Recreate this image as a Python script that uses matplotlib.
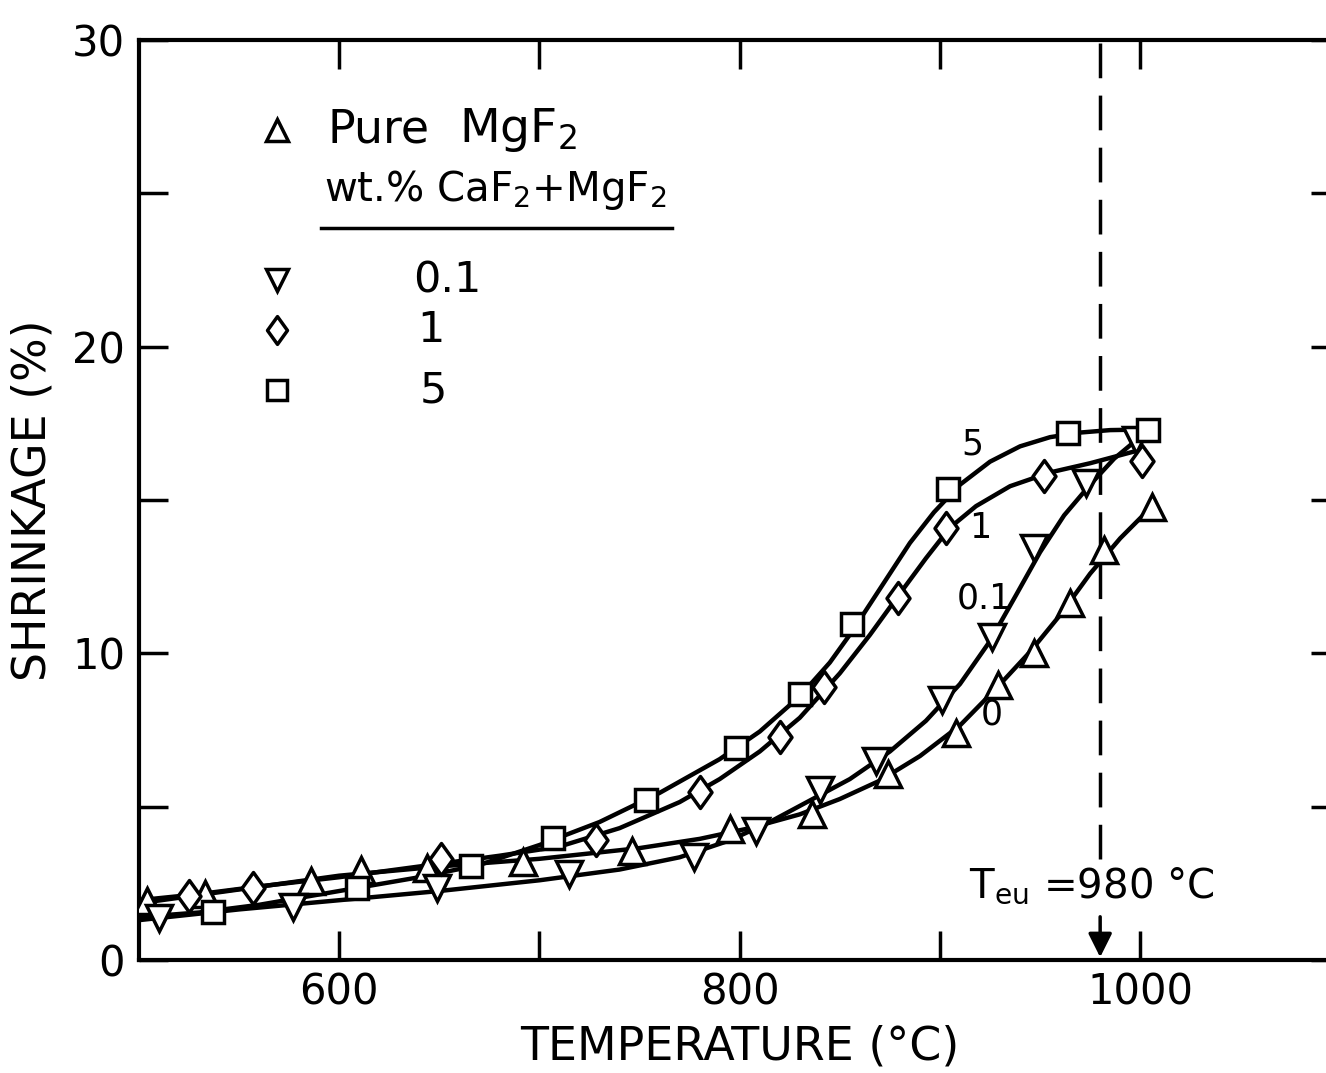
import matplotlib
matplotlib.use("Agg")
import matplotlib.pyplot as plt
from matplotlib.path import Path

# Pure MgF2  (label "0")
t_pure = [504, 533, 586, 611, 644, 692, 746, 795, 836, 874, 908, 929, 947, 965, 982, 1006]
s_pure = [1.92, 2.15, 2.58, 2.93, 3.0, 3.2, 3.55, 4.27, 4.76, 6.06, 7.4, 8.97, 10.0, 11.64, 13.37, 14.77]

# 0.1 wt.% CaF2
t_01 = [510, 577, 649, 715, 777, 808, 840, 868, 901, 926, 947, 973, 998]
s_01 = [1.37, 1.73, 2.35, 2.8, 3.36, 4.2, 5.54, 6.49, 8.48, 10.53, 13.43, 15.55, 16.95]

# 1 wt.% CaF2
t_1 = [525, 557, 651, 728, 780, 820, 842, 879, 903, 952, 1001]
s_1 = [2.09, 2.35, 3.29, 3.91, 5.48, 7.27, 8.9, 11.8, 14.09, 15.78, 16.27]

# 5 wt.% CaF2
t_5 = [537, 609, 666, 707, 753, 798, 830, 856, 904, 964, 1004]
s_5 = [1.57, 2.35, 3.07, 3.98, 5.22, 6.91, 8.67, 10.96, 15.36, 17.18, 17.28]

# hand-drawn smooth curves (traced)
c_pure_t = [500, 550, 600, 650, 700, 750, 780, 805, 830, 850, 870, 890, 910, 928, 945, 960, 975, 990, 1006]
c_pure_s = [1.85, 2.3, 2.75, 3.05, 3.3, 3.65, 3.95, 4.3, 4.75, 5.25, 5.85, 6.65, 7.65, 8.85, 10.05, 11.25, 12.6, 13.75, 14.8]

c_01_t = [500, 550, 600, 650, 700, 740, 770, 795, 815, 835, 855, 875, 893, 910, 925, 938, 950, 962, 975, 987, 998]
c_01_s = [1.3, 1.65, 1.95, 2.25, 2.6, 2.95, 3.35, 3.9, 4.5, 5.2, 5.9, 6.8, 7.8, 9.0, 10.4, 11.9, 13.3, 14.5, 15.5, 16.35, 16.95]

c_1_t = [500, 530, 560, 600, 640, 680, 710, 740, 770, 790, 810, 830, 850, 865, 880, 893, 905, 918, 935, 955, 975, 998]
c_1_s = [1.95, 2.15, 2.4, 2.7, 3.05, 3.4, 3.7, 4.3, 5.15, 5.9, 6.8, 7.9, 9.35, 10.6, 11.95, 13.1, 14.1, 14.8, 15.45, 15.9, 16.2, 16.6]

c_5_t = [500, 530, 560, 600, 640, 670, 700, 730, 760, 790, 810, 830, 845, 856, 870, 885, 897, 910, 925, 940, 955, 970, 985, 1004]
c_5_s = [1.4, 1.55, 1.8, 2.25, 2.7, 3.1, 3.75, 4.5, 5.45, 6.55, 7.45, 8.6, 9.7, 10.7, 12.1, 13.6, 14.6, 15.5, 16.25, 16.75, 17.05, 17.2, 17.28, 17.3]

x_ticks = [600, 700, 800, 900, 1000]
x_ticklabels = ["600", "", "800", "", "1000"]
y_ticks = [0, 5, 10, 15, 20, 25, 30]
y_ticklabels = ["0", "", "10", "", "20", "", "30"]

t_eutectic = 980

plt.rcParams["font.family"] = ["DejaVu Sans"]
plt.rcParams["mathtext.fontset"] = "dejavusans"

# diamond a bit narrower than tall, like the original
diamond = Path([(0, 1), (0.72, 0), (0, -1), (-0.72, 0), (0, 1)],
               [Path.MOVETO, Path.LINETO, Path.LINETO, Path.LINETO, Path.CLOSEPOLY])

fig = plt.figure(figsize=(13.26, 10.73), dpi=100)
ax = fig.add_axes([0.1048, 0.1053, 0.9061, 0.8574])

lw = 3.2
mew = 2.5
for ct, cs in [(c_pure_t, c_pure_s), (c_01_t, c_01_s), (c_1_t, c_1_s), (c_5_t, c_5_s)]:
    ax.plot(ct, cs, color="black", lw=lw, solid_capstyle="round", solid_joinstyle="round", zorder=2)

ax.plot(t_pure, s_pure, ls="none", marker="^", ms=19, mfc="white", mec="black", mew=mew, zorder=3)
ax.plot(t_01, s_01, ls="none", marker="v", ms=19, mfc="white", mec="black", mew=mew, zorder=3)
ax.plot(t_1, s_1, ls="none", marker=diamond, ms=23, mfc="white", mec="black", mew=mew, zorder=3)
ax.plot(t_5, s_5, ls="none", marker="s", ms=16, mfc="white", mec="black", mew=mew, zorder=3)

# curve labels
ax.text(916, 16.8, "5", fontsize=25, ha="center", va="center")
ax.text(920, 14.1, "1", fontsize=25, ha="center", va="center")
ax.text(922, 11.8, "0.1", fontsize=25, ha="center", va="center")
ax.text(926, 8.0, "0", fontsize=25, ha="center", va="center")

# legend drawn by hand
ax.plot([569], [27.06], ls="none", marker="^", ms=16, mfc="white", mec="black", mew=mew)
ax.plot([569], [22.17], ls="none", marker="v", ms=16, mfc="white", mec="black", mew=mew)
ax.plot([569], [20.54], ls="none", marker=diamond, ms=20, mfc="white", mec="black", mew=mew)
ax.plot([569], [18.58], ls="none", marker="s", ms=14, mfc="white", mec="black", mew=mew)
ax.text(594, 27.06, "Pure", fontsize=33, ha="left", va="center")
ax.text(660, 27.06, "MgF$_2$", fontsize=34, ha="left", va="center")
ax.text(678, 25.1, "wt.% CaF$_2$+MgF$_2$", fontsize=29, ha="center", va="center")
ax.plot([591, 766], [23.87, 23.87], color="black", lw=2.5)
ax.text(654, 22.17, "0.1", fontsize=31, ha="center", va="center")
ax.text(646, 20.54, "1", fontsize=31, ha="center", va="center")
ax.text(647, 18.58, "5", fontsize=31, ha="center", va="center")

# eutectic temperature
ax.plot([t_eutectic, t_eutectic], [3.3, 30], color="black", lw=2.5, ls=(0, (10, 5)))
ax.annotate("", xy=(t_eutectic, 0), xytext=(t_eutectic, 1.5),
            arrowprops=dict(arrowstyle="-|>", lw=2.5, color="black", mutation_scale=36))
ax.text(976, 2.4, "T$_{\\mathrm{eu}}$ =980 °C", fontsize=29, ha="center", va="center")

ax.set_xlim(500, 1100)
ax.set_ylim(0, 30)
ax.set_xticks(x_ticks)
ax.set_xticklabels(x_ticklabels)
ax.set_yticks(y_ticks)
ax.set_yticklabels(y_ticklabels)
ax.tick_params(direction="in", top=True, right=True, length=21, width=2.5, labelsize=30)
ax.tick_params(axis="x", pad=8)
ax.tick_params(axis="y", pad=10)
for sp in ax.spines.values():
    sp.set_linewidth(3)

ax.set_xlabel("TEMPERATURE (°C)", fontsize=33, labelpad=8)
ax.set_ylabel("SHRINKAGE (%)", fontsize=33, labelpad=12)

fig.savefig("out.png", dpi=100)
